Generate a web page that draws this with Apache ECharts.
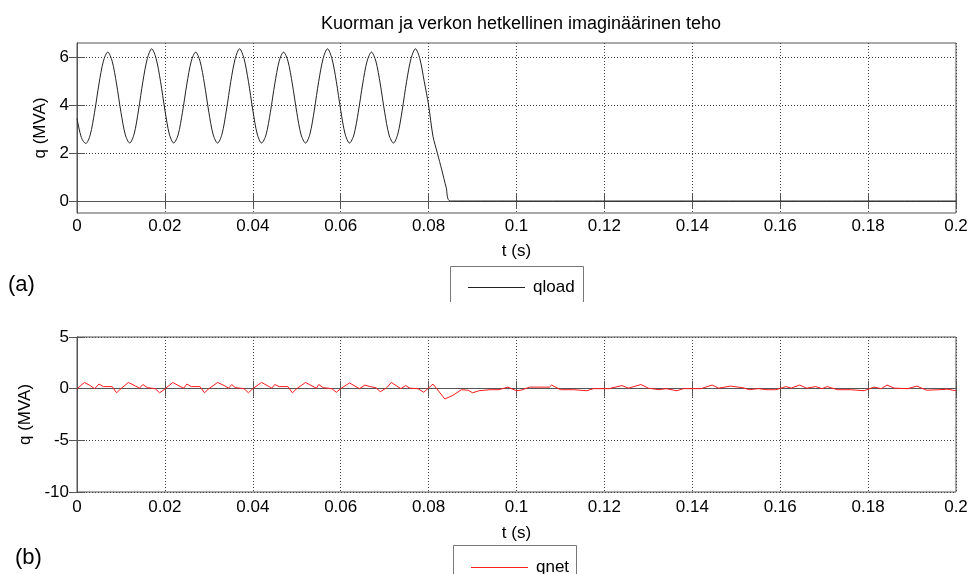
<!DOCTYPE html>
<html>
<head>
<meta charset="utf-8">
<script src="https://cdn.jsdelivr.net/npm/echarts@6/dist/echarts.min.js"></script>
<style>
html,body{margin:0;padding:0;background:#fff;}
#chart{width:976px;height:574px;}
</style>
</head>
<body>
<div id="chart"></div>
<script>
// ---------- data ----------
const titleText = 'Kuorman ja verkon hetkellinen imaginäärinen teho';
const xTicks = [0, 0.02, 0.04, 0.06, 0.08, 0.1, 0.12, 0.14, 0.16, 0.18, 0.2];
const yTicksTop = [0, 2, 4, 6];
const yTicksBottom = [-10, -5, 0, 5];

const tLoad = [0,0.001,0.002,0.003,0.004,0.005,0.006,0.007,0.008,0.009,
  0.010,0.011,0.012,0.013,0.014,0.015,0.016,0.017,0.018,0.019,
  0.020,0.021,0.022,0.023,0.024,0.025,0.026,0.027,0.028,0.029,
  0.030,0.031,0.032,0.033,0.034,0.035,0.036,0.037,0.038,0.039,
  0.040,0.041,0.042,0.043,0.044,0.045,0.046,0.047,0.048,0.049,
  0.050,0.051,0.052,0.053,0.054,0.055,0.056,0.057,0.058,0.059,
  0.060,0.061,0.062,0.063,0.064,0.065,0.066,0.067,0.068,0.069,
  0.070,0.071,0.072,0.073,0.074,0.075,0.076,0.077,0.078,0.079,
  0.080,0.081,0.082,0.083,0.084,0.085,0.2];
const qLoad = [3.45,2.65,2.40,2.76,3.71,4.89,5.84,6.22,5.84,4.89,
  3.71,2.76,2.42,2.80,3.80,5.00,5.95,6.36,5.95,5.00,
  3.80,2.80,2.42,2.76,3.71,4.89,5.84,6.22,5.84,4.89,
  3.71,2.76,2.42,2.80,3.80,5.00,5.95,6.36,5.95,5.00,
  3.80,2.80,2.42,2.76,3.71,4.89,5.84,6.22,5.84,4.89,
  3.71,2.76,2.42,2.80,3.80,5.00,5.95,6.36,5.95,5.00,
  3.80,2.80,2.42,2.76,3.71,4.89,5.84,6.22,5.84,4.89,
  3.71,2.76,2.42,2.80,3.80,5.00,5.95,6.36,5.95,5.00,
  4.00,2.70,2.00,1.30,0.57,0.00,0.00];

const tNet = [0,0.0017,0.003,0.004,0.005,0.006,0.008,0.009,
  0.010,0.0117,0.0133,0.0142,0.015,0.016,0.0178,0.0188,
  0.0198,0.0218,0.0235,0.0243,0.025,0.026,0.028,0.029,
  0.030,0.032,0.0335,0.0345,0.0352,0.036,0.038,0.039,
  0.040,0.042,0.0435,0.0443,0.045,0.046,0.048,0.049,
  0.050,0.052,0.0535,0.0545,0.055,0.056,0.058,0.059,
  0.060,0.062,0.0643,0.0655,0.0667,0.068,0.069,
  0.0705,0.0715,0.0737,0.0748,0.0757,0.0776,0.0789,
  0.081,0.0837,0.0855,0.0875,0.089,0.090,0.0915,0.094,0.096,0.098,
  0.100,0.101,0.103,0.1075,0.108,0.110,0.113,0.116,0.1175,0.1188,
  0.121,0.124,0.1255,0.1283,0.130,0.1324,0.134,0.1365,0.138,0.142,
  0.1445,0.146,0.1487,0.1514,0.153,0.155,0.157,0.159,
  0.1613,0.1625,0.1644,0.166,0.1681,0.1695,0.1707,0.173,0.176,0.1791,
  0.1813,0.183,0.1843,0.186,0.189,0.1911,0.1933,0.1963,0.198,0.2];
const qNet = [0,0.6,0.3,0.0,0.45,0.2,0.2,-0.4,
  0.0,0.6,0.25,0.05,0.4,0.1,0.0,-0.4,
  -0.1,0.6,0.2,0.05,0.45,0.2,0.2,-0.4,
  0.0,0.6,0.3,0.05,0.4,0.1,0.0,-0.4,
  0.0,0.6,0.25,0.05,0.4,0.2,0.2,-0.4,
  0.0,0.6,0.25,0.05,0.4,0.1,0.0,-0.35,
  0.0,0.55,0.0,0.35,0.2,0.1,-0.3,
  0.1,0.6,0.0,0.3,0.05,0.0,-0.35,
  0.45,-1.0,-0.65,-0.1,-0.15,-0.4,-0.2,-0.1,-0.1,0.15,
  -0.2,-0.15,0.15,0.15,0.35,-0.1,-0.1,-0.2,0.0,0.0,
  0.0,0.3,0.05,0.4,0.05,-0.1,0.0,-0.2,0.0,0.0,
  0.35,0.05,0.25,0.1,-0.1,0.0,-0.1,-0.1,
  0.2,0.05,0.35,0.05,0.2,0.0,0.2,-0.1,-0.1,-0.2,
  0.15,0.0,0.35,0.05,0.0,0.25,-0.15,-0.1,-0.05,-0.2];

// ---------- chart ----------
const FONT = '"Liberation Sans", Arial, sans-serif';
const FS = 17;
const frame = '#555';
const gridLine = {show: true, lineStyle: {color: '#444', type: [1, 2], width: 1}};

function xAxes(gi, gap, margin) {
  return [
    {gridIndex: gi, type: 'value', min: 0, max: 0.2, interval: 0.02, position: 'bottom',
     name: 't (s)', nameLocation: 'middle', nameGap: gap,
     nameTextStyle: {fontFamily: FONT, fontSize: FS, color: '#000'},
     axisLine: {show: true, lineStyle: {color: frame}},
     axisTick: {show: true, inside: true, length: 8, lineStyle: {color: frame}},
     axisLabel: {show: true, fontFamily: FONT, fontSize: FS, color: '#000', margin: margin},
     splitLine: gridLine},
    {gridIndex: gi, type: 'value', min: 0, max: 0.2, interval: 0.02, position: 'top',
     axisLine: {show: true, lineStyle: {color: frame}},
     axisTick: {show: true, inside: true, length: 8, lineStyle: {color: frame}},
     axisLabel: {show: false}, splitLine: {show: false}}
  ];
}

const option = {
  animation: false,
  backgroundColor: '#fff',
  title: {
    text: titleText, left: 516, top: 10, textAlign: 'center',
    textStyle: {fontFamily: FONT, fontSize: 18, fontWeight: 'normal', color: '#000'}
  },
  grid: [
    {left: 77, top: 43, width: 879, height: 170, show: true, borderColor: frame, borderWidth: 1},
    {left: 77, top: 337, width: 879, height: 155, show: true, borderColor: frame, borderWidth: 1}
  ],
  xAxis: [].concat(xAxes(0, 30, 5), xAxes(1, 33, 7)),
  yAxis: [
    {gridIndex: 0, type: 'value', min: -0.5, max: 6.6, position: 'left',
     name: 'q (MVA)', nameLocation: 'middle', nameGap: 28, nameRotate: 90,
     nameTextStyle: {fontFamily: FONT, fontSize: FS, color: '#000'},
     axisLine: {show: true, lineStyle: {color: frame}},
     axisTick: {show: true, inside: true, length: 8, customValues: yTicksTop, lineStyle: {color: frame}},
     axisLabel: {show: true, customValues: yTicksTop, fontFamily: FONT, fontSize: FS, color: '#000', margin: 8},
     splitLine: gridLine},
    {gridIndex: 0, type: 'value', min: -0.5, max: 6.6, position: 'right',
     axisLine: {show: true, lineStyle: {color: frame}},
     axisTick: {show: true, inside: true, length: 8, customValues: yTicksTop, lineStyle: {color: frame}},
     axisLabel: {show: false}, splitLine: {show: false}},
    {gridIndex: 1, type: 'value', min: -10, max: 5, interval: 5, position: 'left',
     name: 'q (MVA)', nameLocation: 'middle', nameGap: 42, nameRotate: 90,
     nameTextStyle: {fontFamily: FONT, fontSize: FS, color: '#000'},
     axisLine: {show: true, lineStyle: {color: frame}},
     axisTick: {show: true, inside: true, length: 8, lineStyle: {color: frame}},
     axisLabel: {show: true, fontFamily: FONT, fontSize: FS, color: '#000', margin: 8},
     splitLine: gridLine},
    {gridIndex: 1, type: 'value', min: -10, max: 5, interval: 5, position: 'right',
     axisLine: {show: true, lineStyle: {color: frame}},
     axisTick: {show: true, inside: true, length: 8, lineStyle: {color: frame}},
     axisLabel: {show: false}, splitLine: {show: false}}
  ],
  legend: [
    {data: [{name: 'qload', icon: 'rect'}], left: 463, top: 274, itemWidth: 57, itemHeight: 1,
     textStyle: {fontFamily: FONT, fontSize: FS, color: '#000', padding: [0, 0, 0, 3]}},
    {data: [{name: 'qnet', icon: 'rect'}], left: 466, top: 554, itemWidth: 57, itemHeight: 1,
     textStyle: {fontFamily: FONT, fontSize: FS, color: '#000', padding: [0, 0, 0, 3]}}
  ],
  series: [
    {name: 'qload', type: 'line', xAxisIndex: 0, yAxisIndex: 0, symbol: 'none', smooth: 0.3,
     lineStyle: {color: '#222', width: 1}, itemStyle: {color: '#222'},
     data: tLoad.map((t, i) => [t, qLoad[i]])},
    {name: 'qnet', type: 'line', xAxisIndex: 2, yAxisIndex: 2, symbol: 'none',
     lineStyle: {color: '#ff1a1a', width: 1}, itemStyle: {color: '#ff2020'},
     data: tNet.map((t, i) => [t, qNet[i]])}
  ],
  graphic: [
    {type: 'polyline', shape: {points: [[450.5, 302], [450.5, 266.5], [583.5, 266.5], [583.5, 302]]},
     style: {stroke: '#777', fill: null, lineWidth: 1}},
    {type: 'polyline', shape: {points: [[453.5, 580], [453.5, 545.5], [576.5, 545.5], [576.5, 580]]},
     style: {stroke: '#777', fill: null, lineWidth: 1}},
    {type: 'text', left: 8, top: 274, style: {text: '(a)', fontFamily: FONT, fontSize: 22, fill: '#000'}},
    {type: 'text', left: 15, top: 547, style: {text: '(b)', fontFamily: FONT, fontSize: 22, fill: '#000'}}
  ]
};

const chart = echarts.init(document.getElementById('chart'), null, {renderer: 'canvas'});
chart.setOption(option);
</script>
</body>
</html>
